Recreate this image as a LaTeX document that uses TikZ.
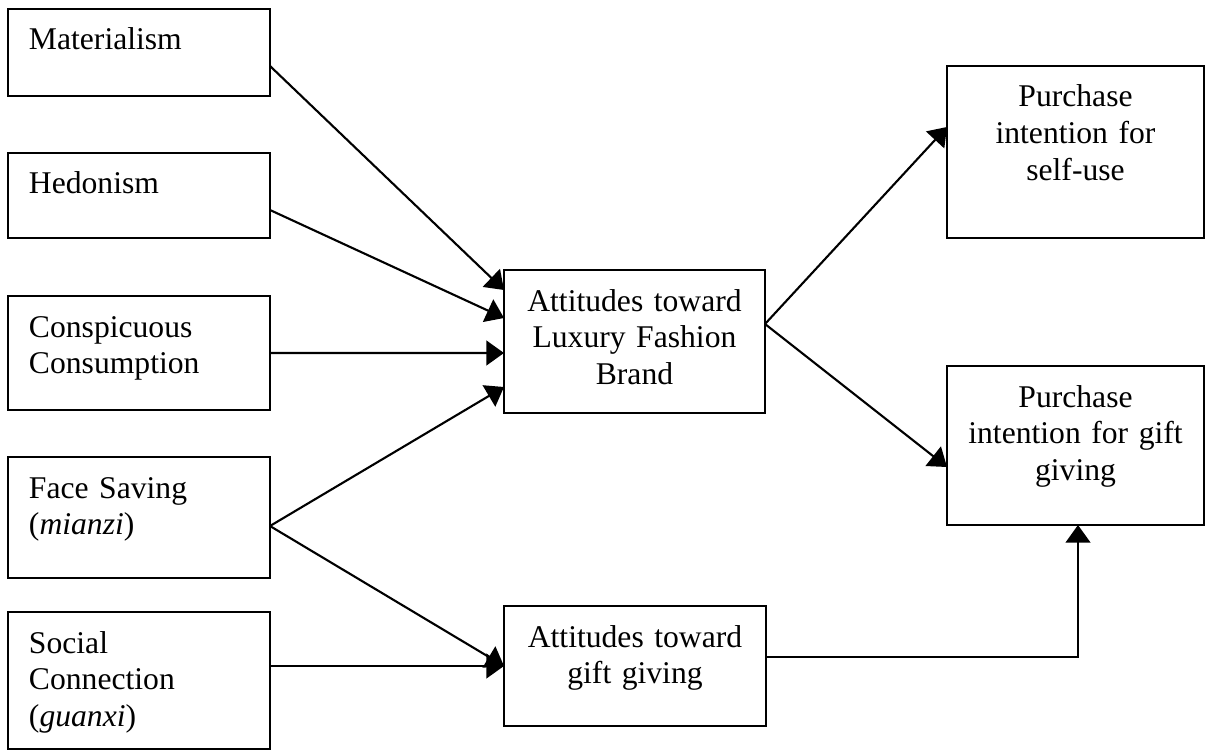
\documentclass[tikz,border=0pt]{standalone}
\usepackage{fontspec}
\setmainfont{Liberation Serif}
\usetikzlibrary{arrows.meta}
\newlength{\unitpx}
\setlength{\unitpx}{0.02cm}
\tikzset{
  every node/.style={font=\fontsize{18}{20.9}\selectfont},
  leftbox/.style={draw, line width=0.8pt, anchor=north west, outer sep=0pt,
    inner xsep=21\unitpx, inner ysep=0pt, text width=220\unitpx, align=left,
    text height=41\unitpx, text depth=#1\unitpx},
  midbox/.style 2 args={draw, line width=0.8pt, anchor=north west, outer sep=0pt,
    inner xsep=15\unitpx, inner ysep=0pt, text width=#1\unitpx, align=center,
    text height=41\unitpx, text depth=#2\unitpx},
  arr/.style={-{Triangle[length=10pt,width=14pt]}, line width=1.2pt},
}
\begin{document}
\begin{tikzpicture}[x=0.02cm, y=-0.02cm]
  \useasboundingbox (0,0) rectangle (1207,750);
  % antecedents
  \node[leftbox=46] (mat) at (8,9) {Materialism};
  \node[leftbox=44] (hed) at (8,153) {Hedonism};
  \node[leftbox=73] (con) at (8,296) {Conspicuous\\Consumption};
  \node[leftbox=80] (face) at (8,457) {Face Saving\\(\textit{mianzi})};
  \node[leftbox=96] (soc) at (8,612) {Social\\Connection\\(\textit{guanxi})};
  % attitudes
  \node[midbox={231}{102}] (lux) at (504,270) {Attitudes toward\\Luxury Fashion\\Brand};
  \node[midbox={232}{79}] (gift) at (504,606) {Attitudes toward\\gift giving};
  % intentions
  \node[midbox={227}{131}] (self) at (947,66) {Purchase\\intention for\\self-use};
  \node[midbox={227}{118}] (pgift) at (947,366) {Purchase\\intention for gift\\giving};

  \draw[arr] ([yshift=-13.5\unitpx]mat.east) -- ([yshift=51.5\unitpx]lux.west);
  \draw[arr] ([yshift=-14.5\unitpx]hed.east) -- ([yshift=23.5\unitpx]lux.west);
  \draw[arr] (con.east) -- ([yshift=-11.5\unitpx]lux.west);
  \draw[arr] ([yshift=-8.5\unitpx]face.east) -- ([yshift=-45.5\unitpx]lux.west);
  \draw[arr] ([yshift=-8.5\unitpx]face.east) -- (gift.west);
  \draw[arr] ([yshift=14.5\unitpx]soc.east) -- (gift.west);
  \draw[arr] ([yshift=17.5\unitpx]lux.east) -- ([yshift=25\unitpx]self.west);
  \draw[arr] ([yshift=17.5\unitpx]lux.east) -- ([yshift=-21.5\unitpx]pgift.west);
  \draw[arr] ([yshift=9\unitpx]gift.east) -| ([xshift=2.5\unitpx]pgift.south);
\end{tikzpicture}
\end{document}
